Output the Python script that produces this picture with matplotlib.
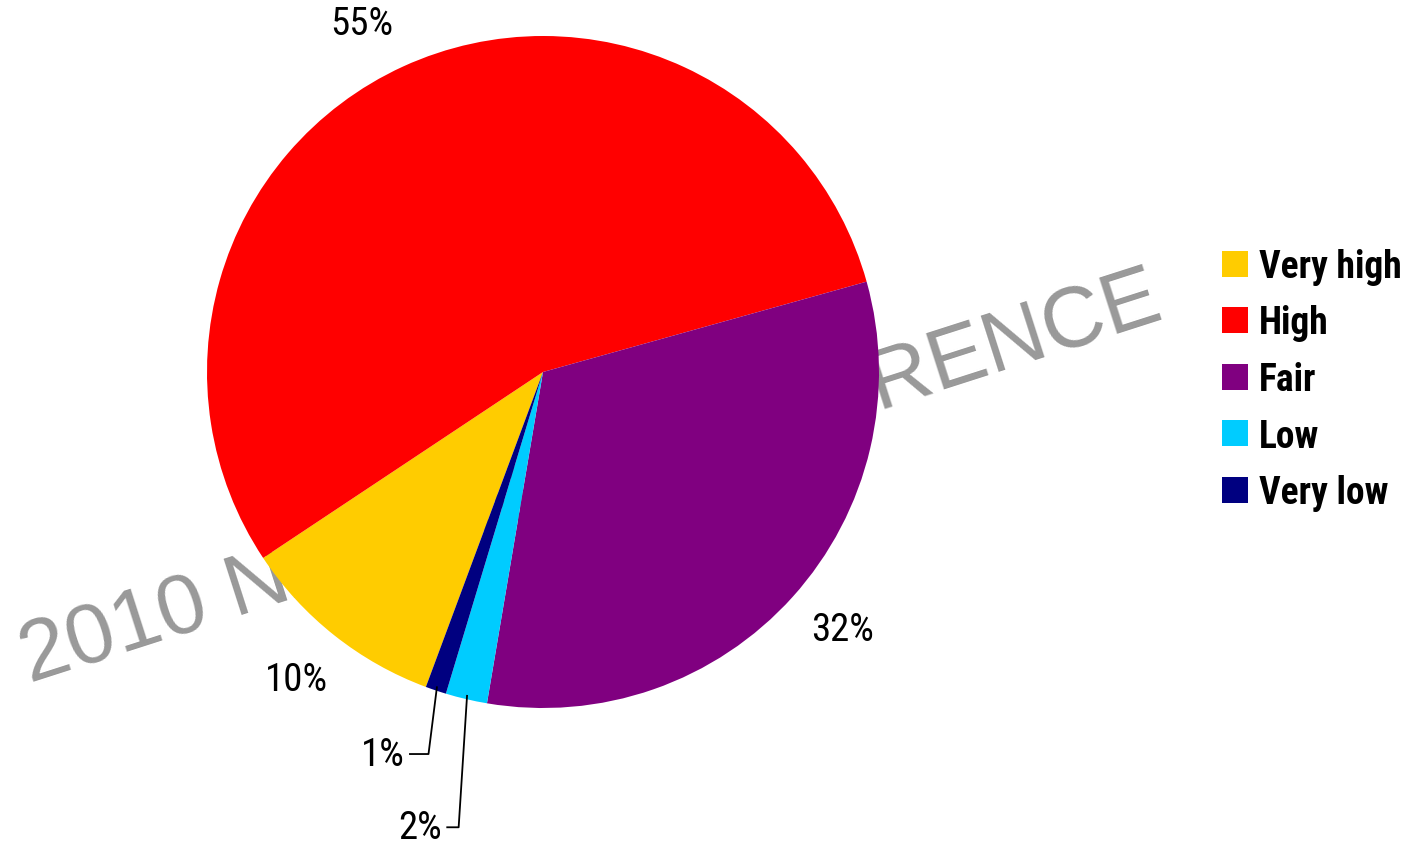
import numpy as np
import matplotlib
matplotlib.use("Agg")
import matplotlib.pyplot as plt
from matplotlib import font_manager

categories = ["Very high", "High", "Fair", "Low", "Very low"]
shares = [10, 55, 32, 2, 1]
colors = ["#FFCC00", "#FF0000", "#800080", "#00CCFF", "#000080"]

# label spots in pie units; for the thin slices this is the text's right edge
label_xy = [(-0.735, -0.914), (-0.539, 1.036), (0.893, -0.765),
            (-0.300, -1.355), (-0.411, -1.137)]
leader = [False, False, False, True, True]


def pick_font(names):
    have = {f.name for f in font_manager.fontManager.ttflist}
    for n in names:
        if n in have:
            return n
    return "DejaVu Sans"


narrow = pick_font(["Liberation Sans Narrow", "Arial Narrow",
                    "Roboto Condensed", "Liberation Sans"])
is_narrow = narrow != "Liberation Sans"
lab_size = 28 if is_narrow else 21
leg_size = 27 if is_narrow else 23

W, H = 1412, 845
fig = plt.figure(figsize=(W / 100, H / 100), dpi=100)

# watermark sits behind the pie
fig.text(30 / W, 1 - 683 / H, "2010 NATIONAL REFERENCE", fontsize=62,
         color="#999999", family=["Liberation Sans", "DejaVu Sans"],
         rotation=17.8, rotation_mode="anchor", ha="left", va="baseline",
         zorder=0)

cx, cy, r = 543, 373, 336
ax = fig.add_axes([(cx - r) / W, (H - cy - r) / H, 2 * r / W, 2 * r / H])
ax.set_zorder(2)
ax.patch.set_alpha(0)

wedges, _ = ax.pie(shares, colors=colors, startangle=-110.4,
                   counterclock=False, radius=1,
                   wedgeprops=dict(linewidth=0))
ax.set_xlim(-1, 1)
ax.set_ylim(-1, 1)
ax.set_aspect("equal")
ax.axis("off")

for w, val, (tx, ty), lead in zip(wedges, shares, label_xy, leader):
    txt = f"{val}%"
    if lead:
        mid = np.deg2rad((w.theta1 + w.theta2) / 2)
        ex, ey = 0.99 * np.cos(mid), 0.99 * np.sin(mid)
        ax.plot([tx + 0.015, ex - 0.025, ex], [ty, ty, ey], color="black",
                lw=1.3, clip_on=False)
        ax.text(tx, ty, txt, ha="right", va="center", fontsize=lab_size,
                family=[narrow, "DejaVu Sans"], clip_on=False)
    else:
        ax.text(tx, ty, txt, ha="center", va="center", fontsize=lab_size,
                family=[narrow, "DejaVu Sans"], clip_on=False)

hl = 26 / (leg_size * 100 / 72)
leg = fig.legend(wedges, categories, loc="upper left",
                 bbox_to_anchor=(1222 / W, 1 - 249 / H), frameon=False,
                 prop=dict(family=narrow, weight="bold", size=leg_size),
                 handlelength=hl, handleheight=hl, handletextpad=0.3,
                 labelspacing=0.52, borderaxespad=0, borderpad=0)
leg.set_zorder(3)

fig.savefig("out.png", dpi=100)
